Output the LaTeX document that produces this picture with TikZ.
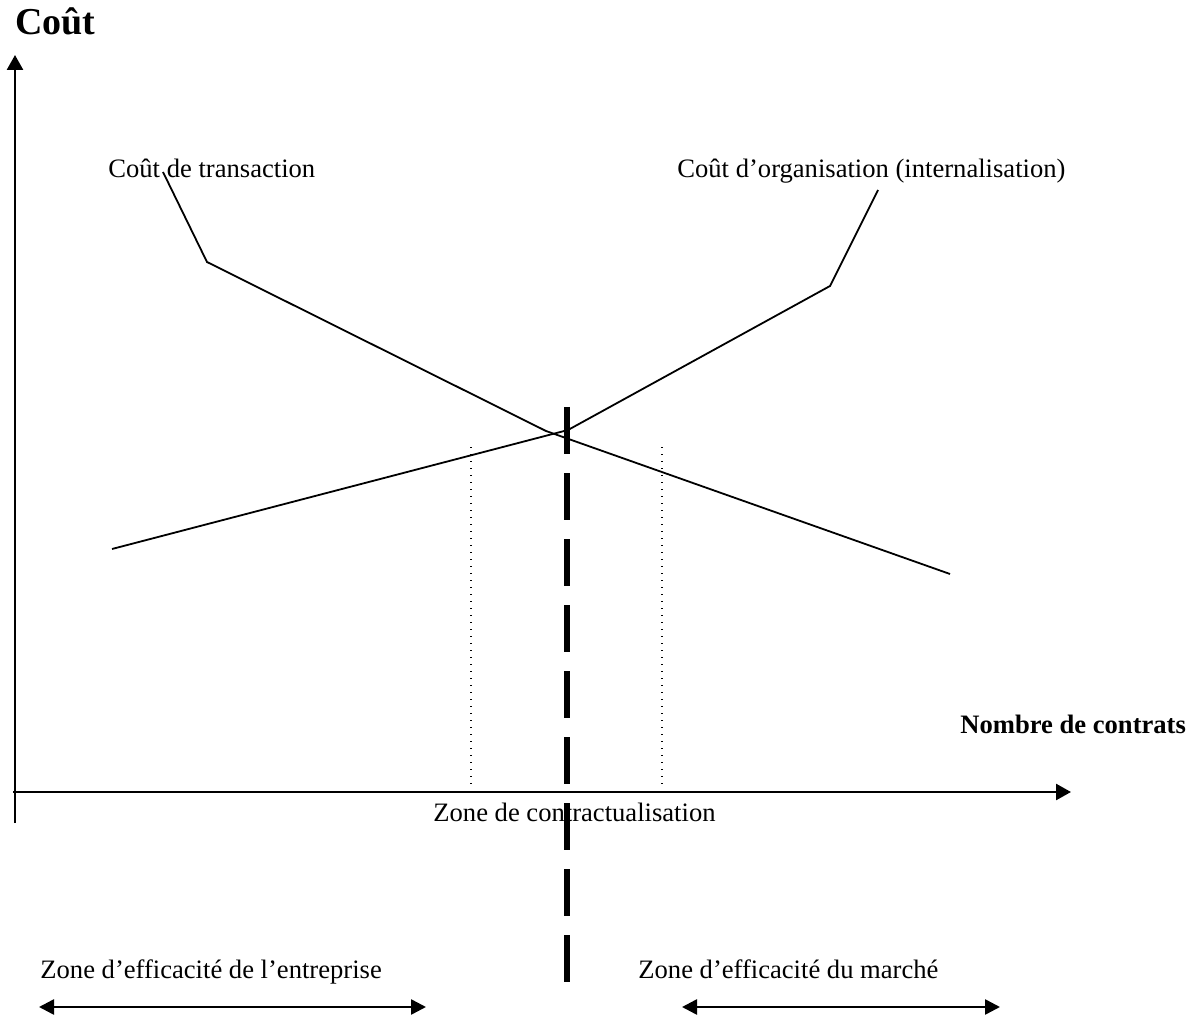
\documentclass[tikz,border=0pt]{standalone}
\usepackage{fontspec}
\setmainfont{Liberation Serif}
\usetikzlibrary{arrows.meta}
\begin{document}
\begin{tikzpicture}[x=0.5pt,y=-0.5pt,
  lbl/.style={inner sep=0pt,anchor=base west,font=\fontsize{13.3}{16}\selectfont},
  boldlbl/.style={lbl,font=\fontsize{13.3}{16}\selectfont\bfseries},
  titlelbl/.style={inner sep=0pt,anchor=base west,font=\fontsize{19}{22}\selectfont\bfseries},
  axisline/.style={line width=1.3pt,-{Triangle[length=7.5pt,width=8pt]}},
  curveline/.style={line width=0.9pt,line join=miter},
  sepline/.style={line width=2.6pt,dash pattern=on 23.5pt off 9.5pt},
  dotline/.style={line width=0.6pt,dash pattern=on 0.6pt off 2.9pt},
  zonearrow/.style={line width=1.3pt,{Triangle[length=7.5pt,width=7.5pt]}-{Triangle[length=7.5pt,width=7.5pt]}}]
\useasboundingbox (0,0) rectangle (1195,1016);

% axes
\coordinate (ybot) at (15,823);
\coordinate (ytop) at (15,55);
\coordinate (xleft) at (13,792);
\coordinate (xright) at (1071,792);
\draw[axisline] (ybot) -- (ytop);
\draw[axisline] (xleft) -- (xright);

% labels
\node[titlelbl] (title) at (15,35) {Coût};
\node[lbl] (ltrans) at (108,178) {Coût de transaction};
\node[lbl] (lorg) at (677,178) {Coût d’organisation (internalisation)};
\node[boldlbl] (lnombre) at (960,733) {Nombre de contrats};
\node[lbl] (lzone) at (433,821) {Zone de contractualisation};
\node[lbl] (lent) at (40,978) {Zone d’efficacité de l’entreprise};
\node[lbl] (lmar) at (638,978) {Zone d’efficacité du marché};

% transaction cost curve
\coordinate (t1) at (163,172);
\coordinate (t2) at (207,262);
\coordinate (t3) at (546,431);
\coordinate (t4) at (950,574);
\draw[curveline] (t1) -- (t2) -- (t3) -- (t4);

% organisation cost curve
\coordinate (o1) at (112,549);
\coordinate (o2) at (568,430);
\coordinate (o3) at (830,286);
\coordinate (o4) at (878,190);
\draw[curveline] (o1) -- (o2) -- (o3) -- (o4);

% dotted bounds of the contracting zone
\coordinate (d1t) at (471,447);
\coordinate (d1b) at (471,786);
\coordinate (d2t) at (662,447);
\coordinate (d2b) at (662,786);
\draw[dotline] (d1t) -- (d1b);
\draw[dotline] (d2t) -- (d2b);

% thick dashed separator
\coordinate (st) at (567,407);
\coordinate (sb) at (567,983);
\draw[sepline] (st) -- (sb);

% zone arrows
\coordinate (a1l) at (39,1007);
\coordinate (a1r) at (426,1007);
\coordinate (a2l) at (682,1007);
\coordinate (a2r) at (1000,1007);
\draw[zonearrow] (a1l) -- (a1r);
\draw[zonearrow] (a2l) -- (a2r);
\end{tikzpicture}
\end{document}
